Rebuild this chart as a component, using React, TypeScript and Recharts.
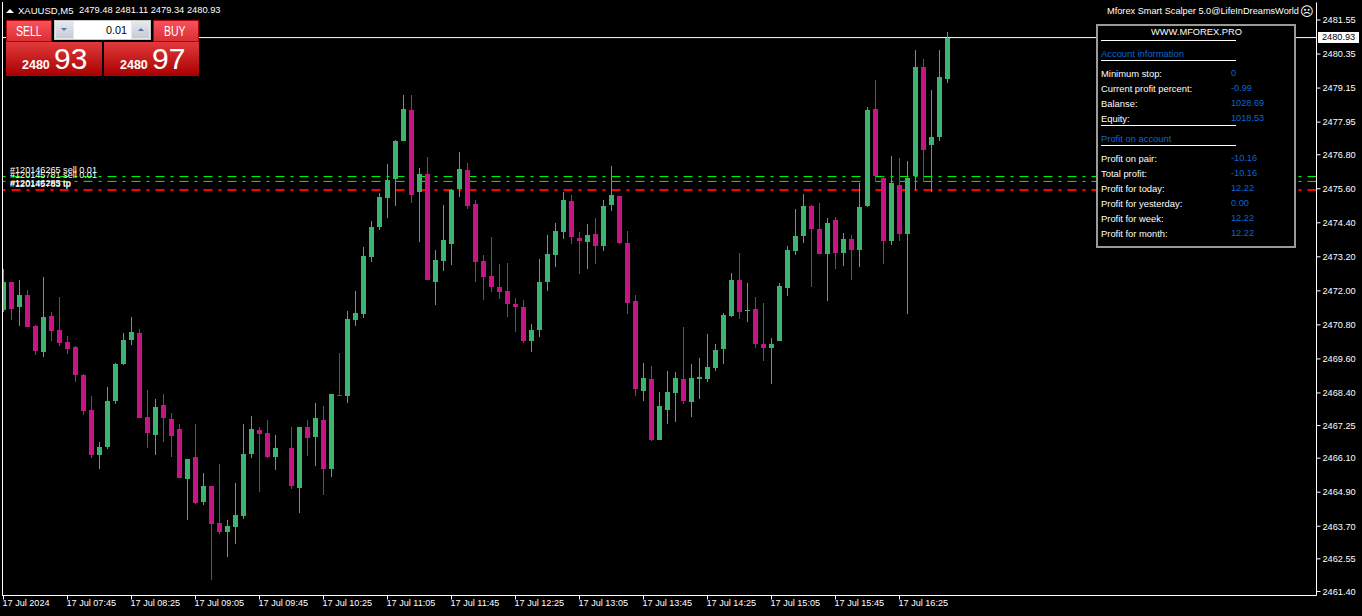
import { Bar, Cell, ComposedChart, ReferenceLine, XAxis, YAxis } from "recharts";

const opens = [
  2471.32, 2472.31, 2471.43, 2471.85, 2470.76, 2469.84, 2471.11, 2470.62, 2470.2, 2470.02,
  2469.03, 2467.8, 2466.21, 2466.49, 2468.12, 2469.42, 2470.27, 2470.51, 2467.55, 2466.92,
  2467.97, 2467.48, 2467.13, 2465.37, 2466.14, 2464.55, 2465.12, 2463.81, 2463.5, 2463.67,
  2464.06, 2466.25, 2467.09, 2466.99, 2466.14, null, 2466.46, 2465.05, 2467.2, 2466.85,
  2467.45, 2465.72, 2468.33, 2468.29, 2470.97, 2471.18, 2473.19, 2474.25, 2475.27, 2475.94,
  2477.28, 2478.38, 2475.49, 2476.12, 2472.31, 2473.05, 2473.65, 2475.59, 2476.26, 2475.06,
  2473.05, 2472.52, 2472.14, 2471.99, 2471.54, 2471.43, 2470.23, 2470.62, 2472.31, 2473.26,
  2474.08, 2475.17, 2473.86, 2473.72, 2474.0, 2473.58, 2475.03, 2475.34, 2473.69, 2471.64,
  2468.47, 2468.89, 2466.74, 2467.8, 2468.4, 2468.89, 2468.08, 2468.89, 2468.89, 2469.28,
  2469.95, 2471.11, 2472.38, 2471.29, 2471.36, 2470.13, 2469.98, 2470.23, 2472.1, 2473.4,
  2473.93, 2474.99, 2474.18, 2473.3, 2474.5, 2473.33, 2473.83, 2473.44, 2474.99, 2478.41,
  2475.98, 2473.76, 2475.73, 2474.0, 2476.05, 2479.89, 2477.14, 2477.42, 2479.48,
];
const highs = [
  2472.77, 2472.31, 2472.38, 2472.03, 2470.8, 2472.49, 2471.25, 2471.78, 2470.41, 2470.05,
  2469.07, 2468.29, 2466.67, 2468.61, 2469.46, 2470.51, 2471.08, 2470.65, 2468.5, 2468.19,
  2468.36, 2467.69, 2467.3, 2466.07, 2467.3, 2465.58, 2465.12, 2465.89, 2463.92, 2465.22,
  2467.3, 2467.59, 2467.2, 2467.45, 2466.92, null, 2467.2, 2467.2, 2467.45, 2468.05,
  2467.94, 2468.36, 2469.81, 2471.29, 2471.99, 2473.55, 2474.46, 2475.45, 2476.47, 2477.32,
  2478.91, 2478.91, 2476.33, 2476.72, 2473.44, 2475.03, 2475.59, 2476.9, 2476.51, 2475.2,
  2473.26, 2473.9, 2472.95, 2472.98, 2471.75, 2471.68, 2470.83, 2473.12, 2473.97, 2474.39,
  2475.49, 2475.38, 2474.08, 2474.36, 2474.57, 2475.2, 2476.4, 2475.34, 2474.11, 2471.85,
  2469.46, 2469.35, 2468.43, 2469.17, 2469.14, 2470.72, 2469.42, 2469.63, 2470.48, 2470.13,
  2471.22, 2472.63, 2473.33, 2472.28, 2471.78, 2471.57, 2470.34, 2472.28, 2473.58, 2474.89,
  2475.41, 2475.03, 2475.1, 2474.57, 2474.6, 2474.04, 2473.97, 2475.8, 2478.48, 2479.43,
  2476.05, 2476.75, 2476.68, 2476.58, 2480.49, 2480.17, 2479.08, 2480.49, 2481.11,
];
const lows = [
  2471.26, 2470.97, 2470.76, 2470.72, 2469.74, 2469.67, 2470.23, 2470.05, 2469.77, 2468.79,
  2467.62, 2466.11, 2465.72, 2466.42, 2468.01, 2469.39, 2470.09, 2467.52, 2466.46, 2466.21,
  2466.67, 2466.14, 2465.4, 2463.92, 2464.48, 2464.45, 2461.8, 2463.43, 2462.62, 2463.07,
  2463.96, 2466.11, 2464.91, 2466.11, 2465.68, null, 2465.01, 2464.17, 2466.18, 2465.82,
  2464.8, 2465.44, 2468.29, 2468.05, 2470.76, 2471.04, 2473.02, 2474.15, 2474.57, 2474.99,
  2477.28, 2475.1, 2473.72, 2472.38, 2471.5, 2472.7, 2472.91, 2475.31, 2474.89, 2472.31,
  2471.68, 2471.96, 2471.71, 2471.08, 2470.55, 2470.16, 2469.84, 2470.37, 2471.99, 2472.84,
  2473.83, 2473.65, 2472.59, 2472.77, 2472.95, 2473.4, 2474.82, 2473.65, 2471.18, 2468.29,
  2468.12, 2466.71, 2466.74, 2467.3, 2467.38, 2468.01, 2467.55, 2468.19, 2468.79, 2469.17,
  2469.42, 2471.08, 2471.01, 2470.9, 2469.98, 2469.53, 2468.72, 2470.23, 2471.82, 2473.26,
  2473.69, 2472.14, 2473.3, 2471.64, 2472.77, 2472.88, 2472.38, 2472.84, 2474.96, 2475.84,
  2472.95, 2473.62, 2473.76, 2471.18, 2475.56, 2475.84, 2475.49, 2477.28, 2479.34,
];
const closes = [
  2472.31, 2471.36, 2471.85, 2470.72, 2469.88, 2471.08, 2470.58, 2470.16, 2469.95, 2469.03,
  2467.76, 2466.21, 2466.49, 2468.12, 2469.42, 2470.27, 2470.55, 2467.52, 2466.99, 2467.9,
  2467.52, 2466.88, 2465.4, 2466.07, 2464.52, 2465.12, 2463.78, 2463.5, 2463.71, 2464.1,
  2466.25, 2467.13, 2466.95, 2466.14, 2466.46, null, 2465.12, 2467.2, 2466.81, 2467.52,
  2465.72, 2468.36, 2468.29, 2471.01, 2471.22, 2473.23, 2474.25, 2475.31, 2475.91, 2477.28,
  2478.41, 2475.38, 2476.12, 2472.38, 2473.09, 2473.79, 2475.56, 2476.3, 2474.99, 2473.02,
  2472.49, 2472.14, 2471.96, 2471.54, 2471.43, 2470.23, 2470.62, 2472.31, 2473.3, 2474.11,
  2475.2, 2473.9, 2473.76, 2473.97, 2473.58, 2474.99, 2475.38, 2473.69, 2471.57, 2468.54,
  2468.93, 2466.74, 2467.94, 2468.43, 2468.93, 2468.12, 2468.93, 2468.96, 2469.31, 2469.91,
  2471.15, 2472.38, 2471.25, 2471.32, 2470.13, 2469.98, 2470.13, 2472.17, 2473.44, 2473.93,
  2474.99, 2474.18, 2473.3, 2474.39, 2473.33, 2473.83, 2473.44, 2474.96, 2478.38, 2476.05,
  2473.76, 2475.8, 2474.0, 2475.98, 2479.89, 2476.97, 2477.42, 2479.54, 2480.93,
];

const priceTicks = [
  2481.55, 2480.35, 2479.15, 2477.95, 2476.8, 2475.6, 2474.4, 2473.2, 2472.0, 2470.8, 2469.6,
  2468.4, 2467.25, 2466.1, 2464.9, 2463.7, 2462.55, 2461.4,
];
const timeTicks = [0, 8, 16, 24, 32, 40, 48, 56, 64, 72, 80, 88, 96, 104, 112];
const timeLabels = [
  "17 Jul 2024", "17 Jul 07:45", "17 Jul 08:25", "17 Jul 09:05", "17 Jul 09:45",
  "17 Jul 10:25", "17 Jul 11:05", "17 Jul 11:45", "17 Jul 12:25", "17 Jul 13:05",
  "17 Jul 13:45", "17 Jul 14:25", "17 Jul 15:05", "17 Jul 15:45", "17 Jul 16:25",
];

const lastPrice = 2480.93;
const orderLevels = [2476.03, 2475.86];
const stopLevel = 2475.56;

const accountLabels = ["Minimum stop:", "Current profit percent:", "Balanse:", "Equity:"];
const accountValues = ["0", "-0.99", "1028.69", "1018.53"];
const profitLabels = [
  "Profit on pair:", "Total profit:", "Profit for today:", "Profit for yesterday:",
  "Profit for week:", "Profit for month:",
];
const profitValues = ["-10.16", "-10.16", "12.22", "0.00", "12.22", "12.22"];
const orderTags = ["#120146265 sell 0.01", "#120145781 sell 0.01", "#120146285 tp", "#120145783 tp"];

const UP = "#3CB371";
const DOWN = "#C71585";
const BLUE = "#0a66d0";
const FONT = "'Liberation Sans', sans-serif";

const data = opens.map((open, i) => {
  const close = closes[i];
  if (open === null || close === null) return { idx: i, wick: null, body: null, up: true };
  return {
    idx: i,
    wick: [lows[i], highs[i]],
    body: [Math.min(open, close), Math.max(open, close)],
    up: close >= open,
  };
});

function TimeTick({ x, payload }: any) {
  const at = timeTicks.indexOf(payload.value);
  return (
    <text x={x - 1} y={604} fill="#fff" fontSize={9.1} fontFamily={FONT} dominantBaseline="middle">
      {timeLabels[at]}
    </text>
  );
}

function Txt({ x, y, color = "#fff", size = 9.4, bold, squeeze = 1, children }: any) {
  return (
    <span
      style={{
        position: "absolute",
        left: x,
        top: y,
        transform: `translateY(-50%) scaleX(${squeeze})`,
        transformOrigin: "left center",
        color,
        fontSize: size,
        fontWeight: bold ? 700 : 400,
        fontFamily: FONT,
        whiteSpace: "nowrap",
        lineHeight: 1,
      }}
    >
      {children}
    </span>
  );
}

function Box({ x, y, w, h, style }: any) {
  return <div style={{ position: "absolute", left: x, top: y, width: w, height: h, boxSizing: "border-box", ...style }} />;
}

function TradePanel() {
  const head = "linear-gradient(#f9515a, #d93036)";
  const quote = "linear-gradient(#e23a3a, #a80000)";
  return (
    <>
      <Box x={6} y={20} w={46} h={22} style={{ background: head, border: "1px solid #a80808" }} />
      <Box x={10} y={41} w={38} h={1} style={{ background: "#8c1010" }} />
      <Txt x={16} y={30.5} size={14} squeeze={0.75}>SELL</Txt>
      <Box x={153} y={20} w={46} h={22} style={{ background: head, border: "1px solid #a80808" }} />
      <Box x={157} y={41} w={38} h={1} style={{ background: "#8c1010" }} />
      <Txt x={164} y={30.5} size={14} squeeze={0.75}>BUY</Txt>
      <Box x={6} y={42} w={96} h={34} style={{ background: quote }} />
      <Box x={104} y={42} w={95} h={34} style={{ background: quote }} />
      <Txt x={22} y={65} size={12.5} bold>2480</Txt>
      <Txt x={54} y={59} size={30}>93</Txt>
      <Txt x={120} y={65} size={12.5} bold>2480</Txt>
      <Txt x={152} y={59} size={30}>97</Txt>
      <Box x={52} y={19} w={101} h={23} style={{ background: "#000" }} />
      <Box x={54} y={20} w={97} h={20} style={{ background: "#e8e8e8", border: "1px solid #c8c8c8" }} />
      <Box x={56} y={22} w={17} h={16} style={{ background: "linear-gradient(#e4e8ee, #c4ccd6)" }} />
      <Box x={74} y={21} w={57} h={18} style={{ background: "#fff" }} />
      <Box x={132} y={22} w={17} h={16} style={{ background: "linear-gradient(#e4e8ee, #c4ccd6)" }} />
      <Txt x={106} y={30} size={10.8} color="#000">0.01</Txt>
      <Box x={61} y={28} w={0} h={0} style={{ borderLeft: "3px solid transparent", borderRight: "3px solid transparent", borderTop: "3px solid #5870a8" }} />
      <Box x={138} y={28} w={0} h={0} style={{ borderLeft: "3px solid transparent", borderRight: "3px solid transparent", borderBottom: "3px solid #5870a8" }} />
    </>
  );
}

function InfoPanel() {
  const accountY = [74, 89, 104, 119];
  const profitY = [159, 174, 189, 204, 219, 234];
  const rules = [40, 60, 125, 145];
  return (
    <>
      <Box x={1096} y={24} w={200} h={224} style={{ background: "#000", border: "2px solid #9a9a9a" }} />
      <Txt x={1151} y={32.5} size={9.3}>WWW.MFOREX.PRO</Txt>
      {rules.map((y) => (
        <Box key={y} x={1101} y={y} w={135} h={1} style={{ background: "#fff" }} />
      ))}
      <Txt x={1101} y={54} color={BLUE}>Account information</Txt>
      <Txt x={1101} y={139} color={BLUE}>Profit on account</Txt>
      {accountLabels.map((label, i) => (
        <Txt key={label} x={1101} y={accountY[i]}>{label}</Txt>
      ))}
      {accountValues.map((value, i) => (
        <Txt key={i} x={1231} y={accountY[i]} color={BLUE} size={9.2}>{value}</Txt>
      ))}
      {profitLabels.map((label, i) => (
        <Txt key={label} x={1101} y={profitY[i]}>{label}</Txt>
      ))}
      {profitValues.map((value, i) => (
        <Txt key={i} x={1231} y={profitY[i]} color={BLUE} size={9.2}>{value}</Txt>
      ))}
    </>
  );
}

export default function App() {
  return (
    <div style={{ position: "fixed", left: 0, top: 0, width: 1362, height: 616, background: "#000", overflow: "hidden" }}>
      <ComposedChart
        width={1362}
        height={616}
        data={data}
        margin={{ top: 2.5, right: 0, bottom: 0, left: 2.5 }}
        barGap={0}
        style={{ position: "absolute", left: 0, top: 0 }}
      >
        <XAxis
          dataKey="idx"
          type="number"
          domain={[-0.125, 164.125]}
          ticks={timeTicks}
          interval={0}
          height={20.5}
          stroke="#fff"
          tickSize={4}
          tick={<TimeTick />}
        />
        <XAxis xAxisId="frame" dataKey="idx" type="number" domain={[-0.125, 164.125]} orientation="top" height={0} tick={false} tickLine={false} stroke="#fff" />
        <YAxis
          orientation="right"
          type="number"
          domain={[2461.258, 2482.167]}
          ticks={priceTicks}
          interval={0}
          width={45.5}
          stroke="#fff"
          tickSize={4}
          tickMargin={2}
          tickFormatter={(v: number) => v.toFixed(2)}
          tick={{ fill: "#fff", fontSize: 9.2, fontFamily: FONT }}
        />
        <ReferenceLine y={lastPrice} stroke="#fff" isFront={false} zIndex={250} />
        {orderLevels.map((level) => (
          <ReferenceLine key={level} y={level} stroke="#00ff00" strokeDasharray="9 6 3 6" isFront={false} zIndex={250} />
        ))}
        <ReferenceLine y={stopLevel} stroke="#ff0000" strokeWidth={2} strokeDasharray="9 6 3 6" isFront={false} zIndex={250} />
        <Bar dataKey="wick" xAxisId="frame" barSize={1} isAnimationActive={false} shapeRendering="crispEdges">
          {data.map((d) => (
            <Cell key={d.idx} fill={d.up ? UP : DOWN} />
          ))}
        </Bar>
        <Bar dataKey="body" barSize={5} isAnimationActive={false} shapeRendering="crispEdges">
          {data.map((d) => (
            <Cell key={d.idx} fill={d.up ? UP : DOWN} />
          ))}
        </Bar>
      </ComposedChart>

      <Box x={0} y={0} w={2} h={596} style={{ background: "#000" }} />
      <Box x={2} y={2} w={1} h={594} style={{ background: "#fff" }} />

      <Box x={6} y={9} w={0} h={0} style={{ borderLeft: "4px solid transparent", borderRight: "4px solid transparent", borderBottom: "4px solid #fff" }} />
      <Txt x={18} y={10.5} size={9.5}>XAUUSD,M5</Txt>
      <Txt x={79} y={10.5} size={9.3}>2479.48 2481.11 2479.34 2480.93</Txt>

      <TradePanel />

      {orderTags.map((tag, i) => (
        <Txt key={tag} x={10} y={[171, 176, 184, 185][i]} size={9.1}>{tag}</Txt>
      ))}

      <Txt x={1107} y={11.5} size={9.2}>Mforex Smart Scalper 5.0@LifeInDreamsWorld</Txt>
      <span style={{ position: "absolute", left: 1300, top: 3, fontSize: 13, lineHeight: "18px", color: "#fff", fontFamily: "'DejaVu Sans'" }}>☹</span>
      <InfoPanel />

      <Box x={1318} y={32} w={41} h={11} style={{ background: "#fff" }} />
      <Txt x={1322} y={37.5} color="#000" size={9.2}>2480.93</Txt>
    </div>
  );
}
